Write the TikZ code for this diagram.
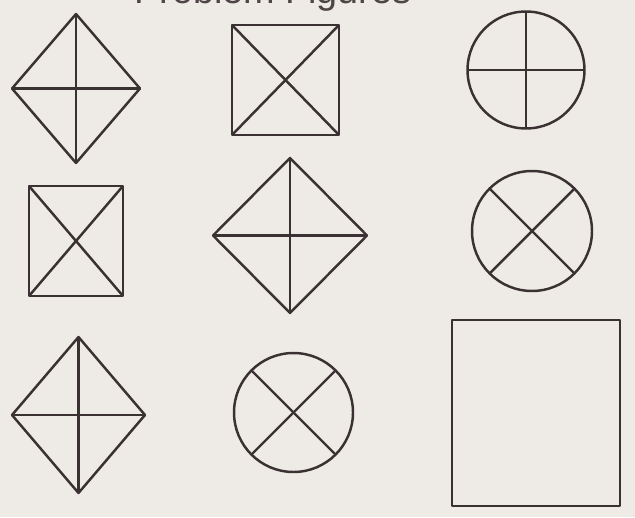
\documentclass[tikz,border=0pt]{standalone}
\usepackage{fontspec}
\setsansfont{Liberation Sans}
\usepackage{xcolor}
\usetikzlibrary{shapes.geometric}
\definecolor{ink}{HTML}{3A3232}
\definecolor{paper}{HTML}{EEEAE6}

\begin{document}
\begin{tikzpicture}[
  x=0.02cm, y=-0.02cm,
  color=ink, line width=1.4pt, line join=round,
  fig/.style={draw, inner sep=0pt, outer sep=0pt},
  kite/.style={fig, diamond},
  box/.style={fig, rectangle},
  ring/.style={fig, circle},
]
% page
\useasboundingbox (0,0) rectangle (635,517);
\fill[paper] (0,0) rectangle (635,517);
\clip (0,0) rectangle (635,517);
% heading, cut off by the top edge
\node[font=\sffamily\fontsize{21.5}{24}\selectfont, anchor=base west,
  inner sep=0pt, text=ink!90] (title) at (133,3.5) {Problem Figures};
% first row
\node[kite, minimum width=2.56cm, minimum height=2.98cm] (d1) at (76,88.5) {};
\node[box, minimum width=2.14cm, minimum height=2.20cm] (s1) at (285.5,80) {};
\node[ring, minimum size=2.34cm] (c1) at (526,70) {};
% second row
\node[box, minimum width=1.88cm, minimum height=2.20cm] (s2) at (76,241) {};
\node[kite, minimum width=3.08cm, minimum height=3.10cm] (d2) at (290,235.5) {};
\node[ring, minimum size=2.40cm] (c2) at (532,231) {};
% third row, last cell left empty
\node[kite, minimum width=2.66cm, minimum height=3.12cm] (d3) at (78.5,415) {};
\node[ring, minimum size=2.38cm] (c3) at (293.5,412.5) {};
\node[box, minimum width=3.36cm, minimum height=3.72cm] (s3) at (536,413) {};
% inner strokes
\foreach \k in {d1,d2,d3} {
  \draw (\k.north) -- (\k.south);
  \draw (\k.west) -- (\k.east);
}
\foreach \k in {s1,s2} {
  \draw (\k.north west) -- (\k.south east);
  \draw (\k.north east) -- (\k.south west);
}
\draw (c1.north) -- (c1.south);
\draw (c1.west) -- (c1.east);
\foreach \k in {c2,c3} {
  \draw (\k.north west) -- (\k.south east);
  \draw (\k.north east) -- (\k.south west);
}
\end{tikzpicture}
\end{document}
